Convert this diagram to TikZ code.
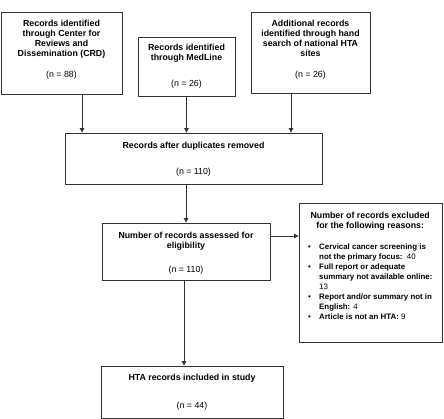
\documentclass[tikz,border=0pt]{standalone}
\usepackage{fontspec}
\setmainfont{Liberation Sans}
\usetikzlibrary{arrows.meta}
\newcommand\xitem[1]{\par\hangindent=16pt\hangafter=1\noindent\hspace*{5pt}\makebox[11pt][l]{\textbullet}#1\par}
\tikzset{
  box/.style={draw=black!80, line width=0.8pt, rectangle, inner sep=0pt},
  txt/.style={inner sep=0pt, align=center, font=\fontsize{8.8}{10}\selectfont},
  arr/.style={draw=black!80, line width=0.8pt, -{Triangle[length=4.5pt,width=4.5pt]}}
}
\begin{document}
\begin{tikzpicture}[x=1pt,y=-1pt]
\useasboundingbox (0,0) rectangle (444,419);
% boxes
\node[box, minimum width=121pt, minimum height=82pt] (crd) at (61.5,53) {};
\node[box, minimum width=97pt, minimum height=59pt] (med) at (186.5,66.5) {};
\node[box, minimum width=119pt, minimum height=81pt] (hta) at (310.5,52.5) {};
\node[box, minimum width=257pt, minimum height=51pt] (dup) at (193.5,158.5) {};
\node[box, minimum width=168pt, minimum height=57pt] (elig) at (186,251.5) {};
\node[box, minimum width=143pt, minimum height=139pt] (excl) at (370.5,272.5) {};
\node[box, minimum width=182pt, minimum height=52pt] (incl) at (192,392) {};
% texts
\node[txt] (crdT) at (61.5,50) {\textbf{Records identified}\\\textbf{through Center for}\\\textbf{Reviews and}\\\textbf{Dissemination (CRD)}\\[11pt](n = 88)};
\node[txt] (medT) at (186.5,66) {\textbf{Records identified}\\\textbf{through MedLine}\\[16pt](n = 26)};
\node[txt] (htaT) at (310.5,50) {\textbf{Additional records}\\\textbf{identified through hand}\\\textbf{search of national HTA}\\\textbf{sites}\\[11pt](n = 26)};
\node[txt] (dupT) at (193.5,159) {\textbf{Records after duplicates removed}\\[16pt](n = 110)};
\node[txt] (eligT) at (186,253) {\textbf{Number of records assessed for}\\\textbf{eligibility}\\[14pt](n = 110)};
\node[txt] (inclT) at (192,392.5) {\textbf{HTA records included in study}\\[18pt](n = 44)};
\node[inner sep=0pt, anchor=north west, font=\fontsize{8.8}{10}\selectfont] (exclT) at (303,212) {%
\begin{minipage}[t]{134pt}
\centering\textbf{Number of records excluded}\\\textbf{for the following reasons:}\par
\vspace{11.5pt}\raggedright\hbadness=10000\hfuzz=30pt
\fontsize{7.9}{9.9}\selectfont
\xitem{\mbox{\textbf{Cervical cancer screening is}}\newline\mbox{\textbf{not the primary focus:}\ \ 40}}
\xitem{\mbox{\textbf{Full report or adequate}}\newline\mbox{\textbf{summary not available online:}}\newline\mbox{13}}
\xitem{\mbox{\textbf{Report and/or summary not in}}\newline\mbox{\textbf{English:} 4}}
\xitem{\mbox{\textbf{Article is not an HTA:} 9}}
\end{minipage}};
% connector positions
\coordinate (c1) at (82,0);
\coordinate (c3) at (291,0);
\coordinate (c5) at (184,0);
\coordinate (c6) at (0,236);
% connectors
\draw[arr] (crd.south -| c1) -- (dup.north -| c1);
\draw[arr] (med.south) -- (med.south |- dup.north);
\draw[arr] (hta.south -| c3) -- (dup.north -| c3);
\draw[arr] (dup.south -| elig.north) -- (elig.north);
\draw[arr] (elig.east |- c6) -- (excl.west |- c6);
\draw[arr] (elig.south -| c5) -- (incl.north -| c5);
\end{tikzpicture}
\end{document}
